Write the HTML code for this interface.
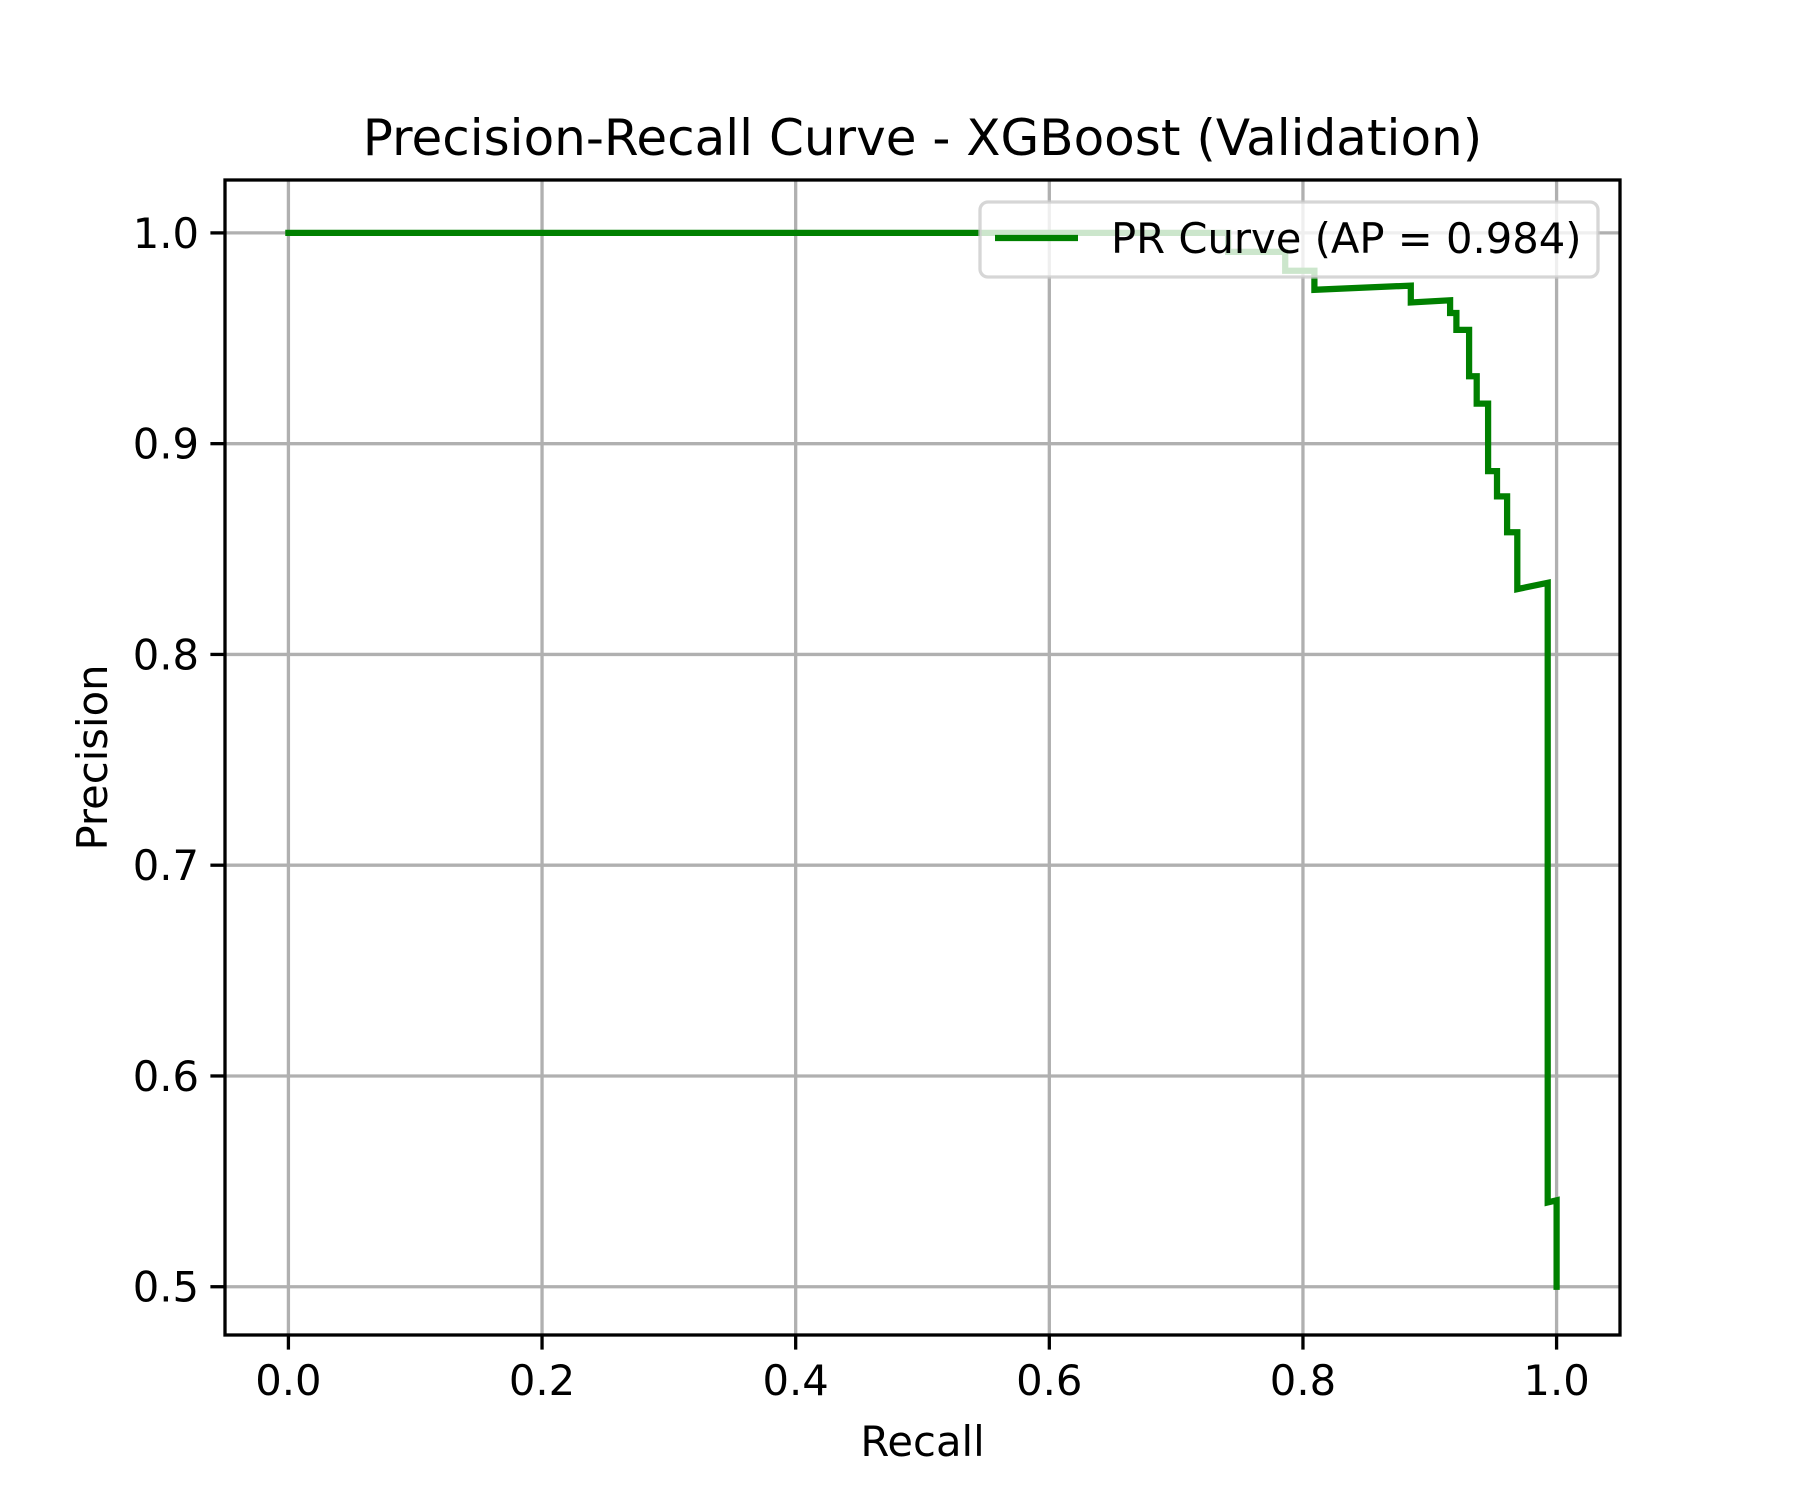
<!DOCTYPE html>
<html><head><meta charset="utf-8"><style>
html,body{margin:0;padding:0;background:#fff;}
svg text{font-family:"DejaVu Sans","Liberation Sans",sans-serif;fill:#000;}
</style></head><body>
<svg id="chart" width="1800" height="1500" viewBox="0 0 1800 1500" xmlns="http://www.w3.org/2000/svg">
<rect width="1800" height="1500" fill="#fff"/>
<g id="grid"></g>
<g id="series"></g>
<rect x="225" y="180" width="1395" height="1155" fill="none" stroke="#000" stroke-width="3.3"/>
<g id="ticks"></g>
<text x="922.5" y="155" font-size="50" text-anchor="middle">Precision-Recall Curve - XGBoost (Validation)</text>
<text x="922.5" y="1456" font-size="41.7" text-anchor="middle">Recall</text>
<text x="0" y="0" font-size="41.7" text-anchor="middle" transform="translate(107,757.5) rotate(-90)">Precision</text>
<g>
<rect x="980" y="202" width="618" height="75" rx="8" fill="#fff" fill-opacity="0.8" stroke="#ccc" stroke-opacity="0.8" stroke-width="3.3"/>
<line x1="995" y1="238" x2="1078" y2="238" stroke="#008000" stroke-width="6.25"/>
<text x="1111" y="253" font-size="41.7">PR Curve (AP = 0.984)</text>
</g>
</svg>
<script>
const recall = [0,0.741,0.741,0.786,0.786,0.809,0.809,0.885,0.885,0.916,0.916,0.921,0.921,0.931,0.931,0.937,0.937,0.946,0.946,0.953,0.953,0.961,0.961,0.969,0.969,0.993,0.993,1.0,1.0];
const precision = [1,1,0.991,0.991,0.982,0.982,0.973,0.975,0.967,0.968,0.962,0.962,0.954,0.954,0.932,0.932,0.919,0.919,0.887,0.887,0.875,0.875,0.858,0.858,0.831,0.834,0.540,0.541,0.5];
const xTicks = [0,0.2,0.4,0.6,0.8,1.0];
const xTickLabels = ["0.0","0.2","0.4","0.6","0.8","1.0"];
const yTicks = [0.5,0.6,0.7,0.8,0.9,1.0];
const yTickLabels = ["0.5","0.6","0.7","0.8","0.9","1.0"];

const L=225,R=1620,T=180,B=1335,xmin=-0.05,xmax=1.05,ymin=0.4771,ymax=1.0251;
function xs(v){return L+(R-L)*(v-xmin)/(xmax-xmin);}
function ys(v){return B-(B-T)*(v-ymin)/(ymax-ymin);}
const NS="http://www.w3.org/2000/svg";
const grid=document.getElementById('grid'),ticks=document.getElementById('ticks'),series=document.getElementById('series');
function mk(tag,attrs,parent){const e=document.createElementNS(NS,tag);for(const k in attrs)e.setAttribute(k,attrs[k]);parent.appendChild(e);return e;}
xTicks.forEach((t,i)=>{
  const x=xs(t);
  const g=mk('line',{x1:x,y1:T,x2:x,y2:B,stroke:'#b0b0b0','stroke-width':3.3},grid);
  
  
  const tk=mk('line',{x1:x,y1:B,x2:x,y2:B+14.6,stroke:'#000','stroke-width':3.3},ticks);
  
  
  const tx=mk('text',{x:x,y:B+60,'font-size':41.7,'text-anchor':'middle'},ticks);
  tx.textContent=xTickLabels[i];
  
  
});
yTicks.forEach((t,i)=>{
  const y=ys(t);
  const g=mk('line',{x1:L,y1:y,x2:R,y2:y,stroke:'#b0b0b0','stroke-width':3.3},grid);
  
  
  const tk=mk('line',{x1:L-14.6,y1:y,x2:L,y2:y,stroke:'#000','stroke-width':3.3},ticks);
  
  
  const tx=mk('text',{x:L-26,y:y+15,'font-size':41.7,'text-anchor':'end'},ticks);
  tx.textContent=yTickLabels[i];
  
  
});
const pts=recall.map((r,i)=>xs(r).toFixed(1)+','+ys(precision[i]).toFixed(1)).join(' ');
const pl=mk('polyline',{points:pts,fill:'none',stroke:'#008000','stroke-width':6.25,'stroke-linejoin':'miter','stroke-linecap':'square'},series);


</script>
</body></html>
